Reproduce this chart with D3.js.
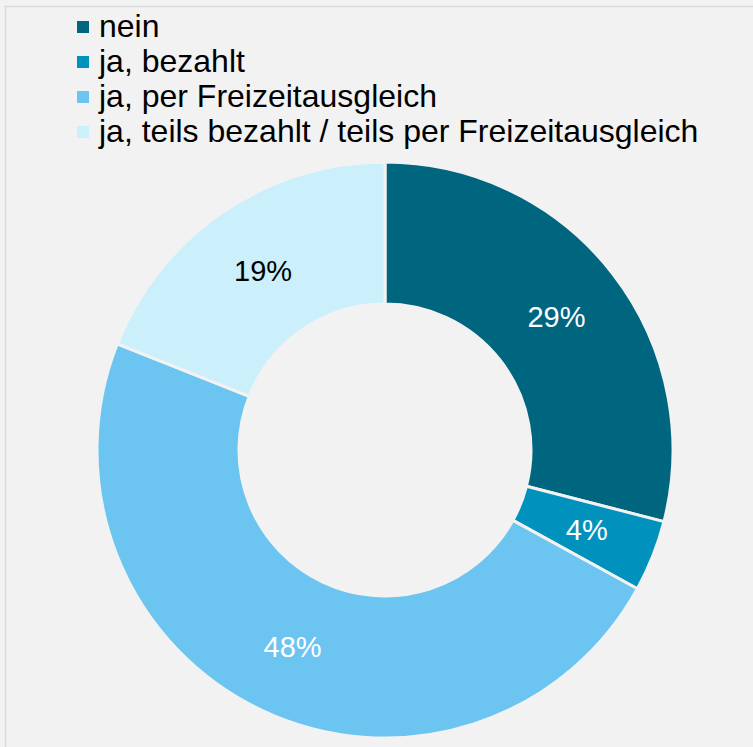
<!DOCTYPE html>
<html>
<head>
<meta charset="utf-8">
<script src="https://cdn.jsdelivr.net/npm/d3@7"></script>
<style>
  html, body { margin: 0; padding: 0; background: #f2f2f2; }
  svg { display: block; }
</style>
</head>
<body>
<script>
// Answer categories and their shares (percent)
const categories = ["nein", "ja, bezahlt", "ja, per Freizeitausgleich", "ja, teils bezahlt / teils per Freizeitausgleich"];
const values = [29, 4, 48, 19];
const colors = ["#00667f", "#0092bc", "#6bc5f0", "#ccf0fb"];
const labelColors = ["#ffffff", "#ffffff", "#ffffff", "#000000"];

const W = 753, H = 747;
const svg = d3.select("body").append("svg").attr("width", W).attr("height", H);

// frame
svg.append("rect").attr("x", 5.5).attr("y", 6.5).attr("width", W + 10).attr("height", H + 10)
  .attr("fill", "#f2f2f2").attr("stroke", "#d9d9d9").attr("stroke-width", 1.5);

const cx = 385, cy = 450, rOuter = 288, rInner = 146;
const data = categories.map((c, i) => ({ cat: c, value: values[i], color: colors[i], lc: labelColors[i] }));

const pie = d3.pie().value(d => d.value).sort(null);
const arc = d3.arc().innerRadius(rInner).outerRadius(rOuter);
const arcs = pie(data);

const g = svg.append("g").attr("transform", `translate(${cx},${cy})`);
g.selectAll("path.slice").data(arcs).enter().append("path")
  .attr("class", "slice")
  .attr("d", arc)
  .attr("fill", d => d.data.color)
  .attr("stroke", "#f2f2f2")
  .attr("stroke-width", 3)
  .attr("stroke-linejoin", "round");

g.selectAll("text.lbl").data(arcs).enter().append("text")
  .attr("class", "lbl")
  .attr("transform", d => `translate(${arc.centroid(d)})`)
  .attr("text-anchor", "middle")
  .attr("dy", "0.36em")
  .attr("font-family", "Liberation Sans, Arial, sans-serif")
  .attr("font-size", 29)
  .attr("fill", d => d.data.lc)
  .text(d => d.data.value + "%");

// legend
const leg = svg.append("g").attr("transform", "translate(77,0)");
const rowH = 35, y0 = 37;
const items = leg.selectAll("g").data(data).enter().append("g")
  .attr("transform", (d, i) => `translate(0,${y0 + i * rowH})`);
items.append("rect").attr("x", 0).attr("y", -16).attr("width", 12).attr("height", 12)
  .attr("fill", d => d.color);
items.append("text").attr("x", 22).attr("y", 0)
  .attr("font-family", "Liberation Sans, Arial, sans-serif")
  .attr("font-size", 32)
  .attr("fill", "#000")
  .text(d => d.cat);
</script>
</body>
</html>
